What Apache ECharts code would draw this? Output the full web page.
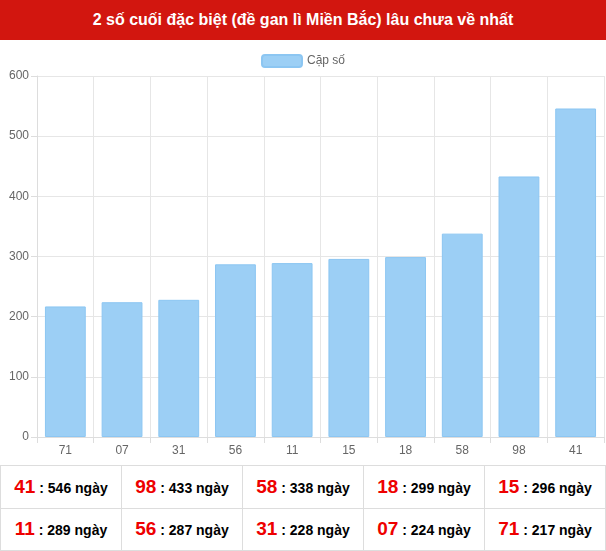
<!DOCTYPE html>
<html><head><meta charset="utf-8">
<script src="https://cdn.jsdelivr.net/npm/echarts@6/dist/echarts.min.js"></script>
<style>
body{margin:0;width:606px;height:551px;overflow:hidden;font-family:Arial,"Liberation Sans",sans-serif;background:#fff}
#title{height:40px;background:#d2160f;color:#fff;font-weight:bold;font-size:16px;line-height:40px;text-align:center}
#chart{width:606px;height:425px}
table{border-collapse:collapse;width:606px;height:86px;table-layout:fixed}
td{border:1px solid #ddd;text-align:center;font-weight:bold;font-size:14px;color:#000;padding:0}
td b{color:#e00;font-size:19px}
</style></head><body>
<div id="title">2 số cuối đặc biệt (đề gan lì Miền Bắc) lâu chưa về nhất</div>
<div id="chart"></div>
<table id="tbl"></table>
<script>
const categories=["71","07","31","56","11","15","18","58","98","41"];
const values=[217,224,228,287,289,296,299,338,433,546];
const seriesName="Cặp số";
const tableNums=["41","98","58","18","15","11","56","31","07","71"];
const tableDays=[546,433,338,299,296,289,287,228,224,217];
const c=echarts.init(document.getElementById('chart'));
c.setOption({
 animation:false,
 legend:{top:9,itemWidth:40,itemHeight:12,textStyle:{color:'#666',fontSize:12},data:[seriesName]},
 grid:{left:37,right:2,top:36,bottom:28},
 xAxis:{type:'category',data:categories,axisTick:{show:true,alignWithLabel:false,length:6,lineStyle:{color:'#ddd'}},axisLine:{lineStyle:{color:'#ddd'}},axisLabel:{color:'#666',fontSize:12},splitLine:{show:true,lineStyle:{color:'#e6e6e6'}}},
 yAxis:{type:'value',min:0,max:600,interval:100,axisLine:{show:true,lineStyle:{color:'#ddd'}},axisTick:{show:true,length:6,lineStyle:{color:'#ddd'}},axisLabel:{color:'#666',fontSize:12},splitLine:{lineStyle:{color:'#e6e6e6'}}},
 series:[{name:seriesName,type:'bar',data:values,barWidth:'72%',itemStyle:{color:'#9ccff5',borderColor:'#8cc6f2',borderWidth:1}}]
});
let h='';
for(let r=0;r<2;r++){h+='<tr>';for(let i=0;i<5;i++){const k=r*5+i;h+='<td><b>'+tableNums[k]+'</b> : '+tableDays[k]+' ngày</td>';}h+='</tr>';}
document.getElementById('tbl').innerHTML=h;
</script></body></html>
